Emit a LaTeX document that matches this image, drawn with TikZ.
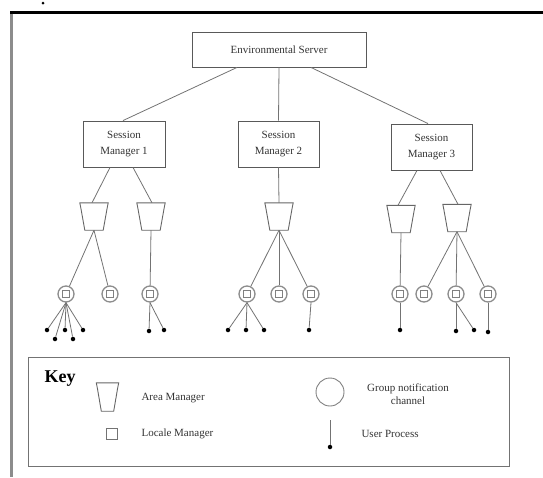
\documentclass[tikz,border=0pt]{standalone}
\usepackage{fontspec}
\setmainfont{Liberation Serif}
% outline of an area manager: a flared pot drawn on the anchors of its node
\newcommand\potoutline[1]{%
  \draw[pot] (#1.north west) -- (#1.north east)
    -- ([shift={(-1pt,-5pt)}]#1.north east)
    -- ([xshift=-5pt]#1.south east)
    -- ([xshift=5pt]#1.south west)
    -- ([shift={(1pt,-5pt)}]#1.north west) -- cycle;}
\begin{document}
\begin{tikzpicture}[x=1pt,y=-1pt,
  every node/.style={font=\fontsize{11}{16}\selectfont, text=black!80},
  frame/.style={draw=black!65, line width=0.9pt},
  boxnode/.style={frame, rectangle, inner sep=0pt, align=center},
  link/.style={draw=black!55, line width=0.8pt},
  potnode/.style={rectangle, inner sep=0pt, minimum width=28pt, minimum height=27pt},
  pot/.style={draw=black!60, line width=0.9pt, line join=miter},
  chan/.style={circle, draw=black!45, line width=1.3pt, minimum size=16pt, inner sep=0pt,
    path picture={\draw[black!50, line width=1pt]
      ([shift={(-3.5pt,-3.5pt)}]path picture bounding box.center) rectangle
      ([shift={(3.5pt,3.5pt)}]path picture bounding box.center);}},
  proc/.style={circle, fill=black, minimum size=4.5pt, inner sep=0pt},
]
\useasboundingbox (0,0) rectangle (543,477);

% page frame
\node[proc, minimum size=3pt] (dot) at (43,3) {};
\draw[line width=2.5pt] (10,12.5) -- (543,12.5);
\draw[black!45, line width=2.5pt] (11.5,13.5) -- (11.5,477);

% servers
\node[boxnode, minimum width=174pt, minimum height=35pt] (env) at (279,49.5) {Environmental Server};
\node[boxnode, minimum width=82pt, minimum height=46pt] (sm1) at (124,144) {Session\\Manager 1};
\node[boxnode, minimum width=81pt, minimum height=46pt] (sm2) at (278.5,144) {Session\\Manager 2};
\node[boxnode, minimum width=81pt, minimum height=46pt] (sm3) at (431.5,147) {Session\\Manager 3};

\draw[link] ([xshift=-42pt]env.south) -- ([xshift=-1pt]sm1.north);
\draw[link] (env.south) -- (sm2.north);
\draw[link] ([xshift=32pt]env.south) -- ([xshift=-3.5pt]sm3.north);

% area managers
\node[potnode] (a1) at (94,216.5) {};
\node[potnode] (a2) at (151,216.5) {};
\node[potnode] (a3) at (279,216.5) {};
\node[potnode] (a4) at (401,219) {};
\node[potnode] (a5) at (457,218) {};
\foreach \n in {a1,a2,a3,a4,a5} {\potoutline{\n}}

\draw[link] ([xshift=-14pt]sm1.south) -- ([xshift=-2pt]a1.north);
\draw[link] ([xshift=9pt]sm1.south) -- ([xshift=1pt]a2.north);
\draw[link] (sm2.south) -- (a3.north);
\draw[link] ([xshift=-14.5pt]sm3.south) -- ([xshift=-3pt]a4.north);
\draw[link] ([xshift=8.5pt]sm3.south) -- ([xshift=1pt]a5.north);

% group notification channels with their locale managers
\foreach \n/\x in {c1/66,c2/110,c3/150,c4/247,c5/279,c6/311,c7/400,c8/424,c9/456,c10/488}
  {\node[chan] (\n) at (\x,294) {};}

\foreach \a/\c in {a1/c1,a1/c2,a2/c3,a3/c4,a3/c5,a3/c6,a4/c7,a5/c8,a5/c9,a5/c10}
  {\draw[link] (\a.south) -- (\c);}

% user processes
\foreach \n/\x/\y in {p1/47/330,p2/65/330,p3/83/330,p4/55/339,p5/73/339,
                      p6/149/331,p7/164/330,
                      p8/228/330,p9/246/330,p10/264/330,
                      p11/309/330,p12/400/330,
                      p13/456/331,p14/474/330,p15/488/332}
  {\node[proc] (\n) at (\x,\y) {};}

\foreach \c/\p in {c1/p1,c1/p2,c1/p3,c1/p4,c1/p5,c3/p6,c3/p7,c4/p8,c4/p9,c4/p10,
                   c6/p11,c7/p12,c9/p13,c9/p14,c10/p15}
  {\draw[link] (\c.south) -- (\p);}

% key
\node[draw=black!55, line width=0.9pt, minimum width=481pt, minimum height=109pt, inner sep=0pt] (keybox) at (268.5,411.5) {};
\node[font=\fontsize{18}{20}\selectfont\bfseries, text=black] (keyt) at (60,379) {Key};
\node[potnode, minimum width=22pt, minimum height=28pt] (ka) at (107.5,397) {};
\potoutline{ka}
\node[anchor=west] (kat) at (138,398) {Area Manager};
\node[draw=black!55, line width=0.9pt, minimum size=11pt, inner sep=0pt] (kl) at (112,434) {};
\node[anchor=west] (klt) at (138,434) {Locale Manager};
\node[circle, draw=black!50, line width=0.9pt, minimum size=28pt, inner sep=0pt] (kc) at (330,392) {};
\node[align=center, font=\fontsize{11}{13}\selectfont] (kct) at (408,394) {Group notification\\channel};
\coordinate (kp0) at (330,420);
\node[proc] (kp) at (330,447) {};
\draw[link] (kp0) -- (kp);
\node[anchor=west] (kpt) at (358,434) {User Process};
\end{tikzpicture}
\end{document}
